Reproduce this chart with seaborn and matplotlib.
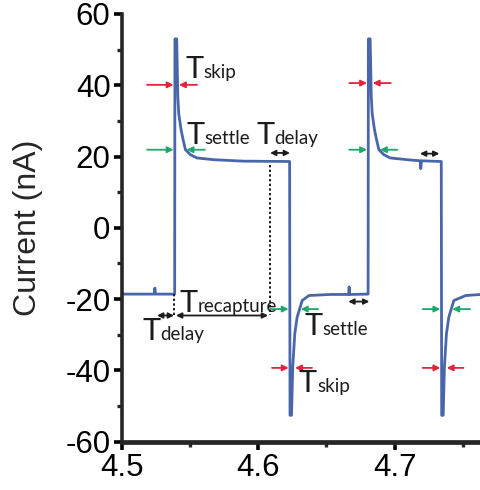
import matplotlib
matplotlib.use("Agg")
import matplotlib.pyplot as plt
from matplotlib.font_manager import FontProperties
from matplotlib.ticker import MultipleLocator
import pandas as pd
import seaborn as sns

# Measured current trace (time in s, current in nA)
time_s = [
    4.5000, 4.5238, 4.5243, 4.5248, 4.5388,
    4.5390, 4.5403, 4.5411, 4.5418, 4.5435, 4.5450, 4.5467, 4.5504, 4.5550, 4.5675, 4.5889, 4.6230,
    4.6233, 4.6244, 4.6253, 4.6268, 4.6285, 4.6303, 4.6322, 4.6372, 4.6526, 4.6662, 4.6666, 4.6670, 4.6805,
    4.6807, 4.6820, 4.6828, 4.6835, 4.6852, 4.6867, 4.6884, 4.6921, 4.6967, 4.7092, 4.7186, 4.7191, 4.7196, 4.7341,
    4.7344, 4.7355, 4.7364, 4.7379, 4.7396, 4.7414, 4.7433, 4.7520, 4.7632,
]
current_na = [
    -18.6, -18.6, -16.9, -18.6, -18.6,
    53.0, 53.0, 37.0, 32.0, 27.5, 24.7, 21.9, 20.5, 19.6, 19.1, 18.7, 18.6,
    -52.6, -52.6, -39.0, -29.7, -25.1, -22.8, -20.4, -19.0, -18.7, -18.7, -16.6, -18.7, -18.6,
    53.0, 53.0, 37.0, 32.0, 27.5, 24.7, 21.9, 20.5, 19.6, 19.1, 18.8, 16.6, 18.8, 18.6,
    -52.6, -52.6, -39.0, -29.7, -25.1, -22.8, -20.4, -19.0, -18.7,
]

x_ticks = [4.5, 4.6, 4.7]
x_tick_labels = ["4.5", "4.6", "4.7"]
y_ticks = [-60, -40, -20, 0, 20, 40, 60]
y_tick_labels = ["-60", "-40", "-20", "0", "20", "40", "60"]

# Converging arrow pairs: (level, left tail, left head, right tail, right head)
skip_marks = [
    (40.1, 4.5186, 4.5380, 4.5552, 4.5420),
    (-39.3, 4.6101, 4.6223, 4.6394, 4.6270),
    (40.6, 4.6667, 4.6797, 4.6971, 4.6839),
    (-39.3, 4.7205, 4.7334, 4.7503, 4.7381),
]
settle_marks = [
    (21.9, 4.5186, 4.5380, 4.5610, 4.5475),
    (-22.8, 4.6087, 4.6223, 4.6439, 4.6312),
    (21.9, 4.6667, 4.6797, 4.7019, 4.6892),
    (-22.8, 4.7205, 4.7334, 4.7552, 4.7422),
]
# Double-headed spans: (level, start, end)
delay_spans = [
    (21.0, 4.6087, 4.6233),
    (-24.6, 4.5259, 4.5383),
    (20.8, 4.7185, 4.7327),
    (-20.7, 4.6660, 4.6814),
]
recapture_span = (-24.6, 4.5398, 4.6072)
# Dotted guides: (time, top, bottom)
guides = [
    (4.6087, 17.7, -24.6),
    (4.5386, -18.6, -24.6),
]
# Labels: (time, baseline level, subscript)
labels = [
    (4.5464, 42.0, "skip"),
    (4.5475, 23.6, "settle"),
    (4.5985, 23.6, "delay"),
    (4.5420, -23.5, "recapture"),
    (4.5150, -31.6, "delay"),
    (4.6340, -30.2, "settle"),
    (4.6298, -46.0, "skip"),
]

trace_color = "#4a66aa"
red = "#e3223d"
green = "#1ea868"
ink = "#1c1c1c"

sns.set_style("ticks")
plt.rcParams["font.family"] = ["Liberation Sans", "DejaVu Sans"]

fig = plt.figure(figsize=(4.81, 4.90), dpi=100)
ax = fig.add_axes([0.253, 0.0986, 0.747, 0.873])

df = pd.DataFrame({"time": time_s, "current": current_na})
sns.lineplot(data=df, x="time", y="current", ax=ax, color=trace_color,
             linewidth=2.0, estimator=None, sort=False)

ax.set_xlim(4.5, 4.7632)
ax.set_ylim(-60, 60)
ax.set_xticks(x_ticks, x_tick_labels)
ax.set_yticks(y_ticks, y_tick_labels)
ax.xaxis.set_minor_locator(MultipleLocator(0.05))
ax.yaxis.set_minor_locator(MultipleLocator(10))
ax.set_xlabel("")
ax.set_ylabel("Current (nA)", fontsize=23, labelpad=16)

for side in ("top", "right"):
    ax.spines[side].set_visible(False)
ax.spines["left"].set_linewidth(2.6)
ax.spines["bottom"].set_linewidth(3.4)
ax.tick_params(axis="both", which="major", direction="out", length=6,
               width=2.6, labelsize=22.5, colors="black")
ax.tick_params(axis="x", which="major", pad=2)
ax.tick_params(axis="y", which="major", pad=2)
ax.tick_params(axis="both", which="minor", direction="out", length=3.5, width=2.4)


def one_way(x0, x1, y, color):
    ax.annotate("", xy=(x1, y), xytext=(x0, y),
                arrowprops=dict(arrowstyle="-|>", color=color, lw=1.3,
                                shrinkA=0, shrinkB=0, mutation_scale=9))


def two_way(x0, x1, y, color=ink):
    ax.annotate("", xy=(x1, y), xytext=(x0, y),
                arrowprops=dict(arrowstyle="<|-|>", color=color, lw=1.3,
                                shrinkA=0, shrinkB=0, mutation_scale=8))


for (y, l0, l1, r0, r1) in skip_marks:
    one_way(l0, l1, y, red)
    one_way(r0, r1, y, red)
for (y, l0, l1, r0, r1) in settle_marks:
    one_way(l0, l1, y, green)
    one_way(r0, r1, y, green)
for (y, a, b) in delay_spans:
    two_way(a, b, y)
two_way(recapture_span[1], recapture_span[2], recapture_span[0])

for (x, top, bottom) in guides:
    ax.plot([x, x], [top, bottom], color=ink, lw=1.4, ls=(0, (1.2, 1.2)))

# Large "T" with a smaller suffix sharing its baseline
label_font = "Lato"
big = FontProperties(family=label_font, size=22)
renderer = fig.canvas.get_renderer()
t_w, _, _ = renderer.get_text_width_height_descent("T", big, ismath=False)
sub_shift = t_w * 72.0 / fig.dpi

for (x, y, sub) in labels:
    ax.text(x, y, "T", fontproperties=big, color=ink, ha="left", va="baseline")
    ax.annotate(sub, xy=(x, y), xytext=(sub_shift, 0), textcoords="offset points",
                family=label_font, fontsize=13.5, color=ink, ha="left", va="baseline")

fig.savefig("out.png", dpi=100)
